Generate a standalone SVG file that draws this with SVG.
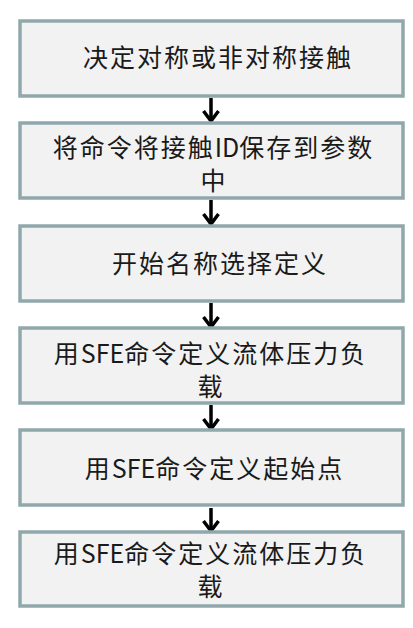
<svg xmlns="http://www.w3.org/2000/svg" width="413" height="628" viewBox="0 0 413 628">
<style>
.box{fill:#f2f2f2;stroke:#90a8ab;stroke-width:3.5}
.t{font-family:"Noto Sans CJK SC","Noto Sans",sans-serif;font-size:25px;letter-spacing:2px;fill:#1a1a1a;text-anchor:middle}
.l{letter-spacing:0px}
.c{fill:none;stroke:#000;stroke-width:3.5}
</style>
<defs>
<marker id="ah" viewBox="0 0 20 20" refX="18" refY="10" markerWidth="20" markerHeight="20" markerUnits="userSpaceOnUse" orient="auto">
<path d="M8 2.5 L18 10 L8 17.5" fill="none" stroke="#000" stroke-width="3.5"/>
</marker>
</defs>
<rect width="413" height="628" fill="#fff"/>
<g id="connectors">
<path class="c" d="M211 98 V121" marker-end="url(#ah)"/>
<path class="c" d="M211 200 V224" marker-end="url(#ah)"/>
<path class="c" d="M211 303 V327" marker-end="url(#ah)"/>
<path class="c" d="M211 405 V429" marker-end="url(#ah)"/>
<path class="c" d="M211 508 V531" marker-end="url(#ah)"/>
</g>
<g id="n1">
<rect class="box" x="20" y="21" width="383" height="75"/>
<text class="t" x="218" y="67">决定对称或非对称接触</text>
</g>
<g id="n2">
<rect class="box" x="20" y="123" width="383" height="75"/>
<text class="t"><tspan x="213.5" y="157">将命令将接触<tspan class="l">ID</tspan>保存到参数</tspan><tspan x="214" y="190">中</tspan></text>
</g>
<g id="n3">
<rect class="box" x="20" y="226" width="383" height="75"/>
<text class="t" x="220" y="273">开始名称选择定义</text>
</g>
<g id="n4">
<rect class="box" x="20" y="328" width="383" height="75"/>
<text class="t"><tspan x="210.5" y="363">用<tspan class="l">SFE</tspan>命令定义流体压力负</tspan><tspan x="211" y="396">载</tspan></text>
</g>
<g id="n5">
<rect class="box" x="20" y="430" width="383" height="75"/>
<text class="t" x="214.5" y="478">用<tspan class="l">SFE</tspan>命令定义起始点</text>
</g>
<g id="n6">
<rect class="box" x="20" y="532" width="383" height="74"/>
<text class="t"><tspan x="210.5" y="563">用<tspan class="l">SFE</tspan>命令定义流体压力负</tspan><tspan x="211" y="596">载</tspan></text>
</g>
</svg>
